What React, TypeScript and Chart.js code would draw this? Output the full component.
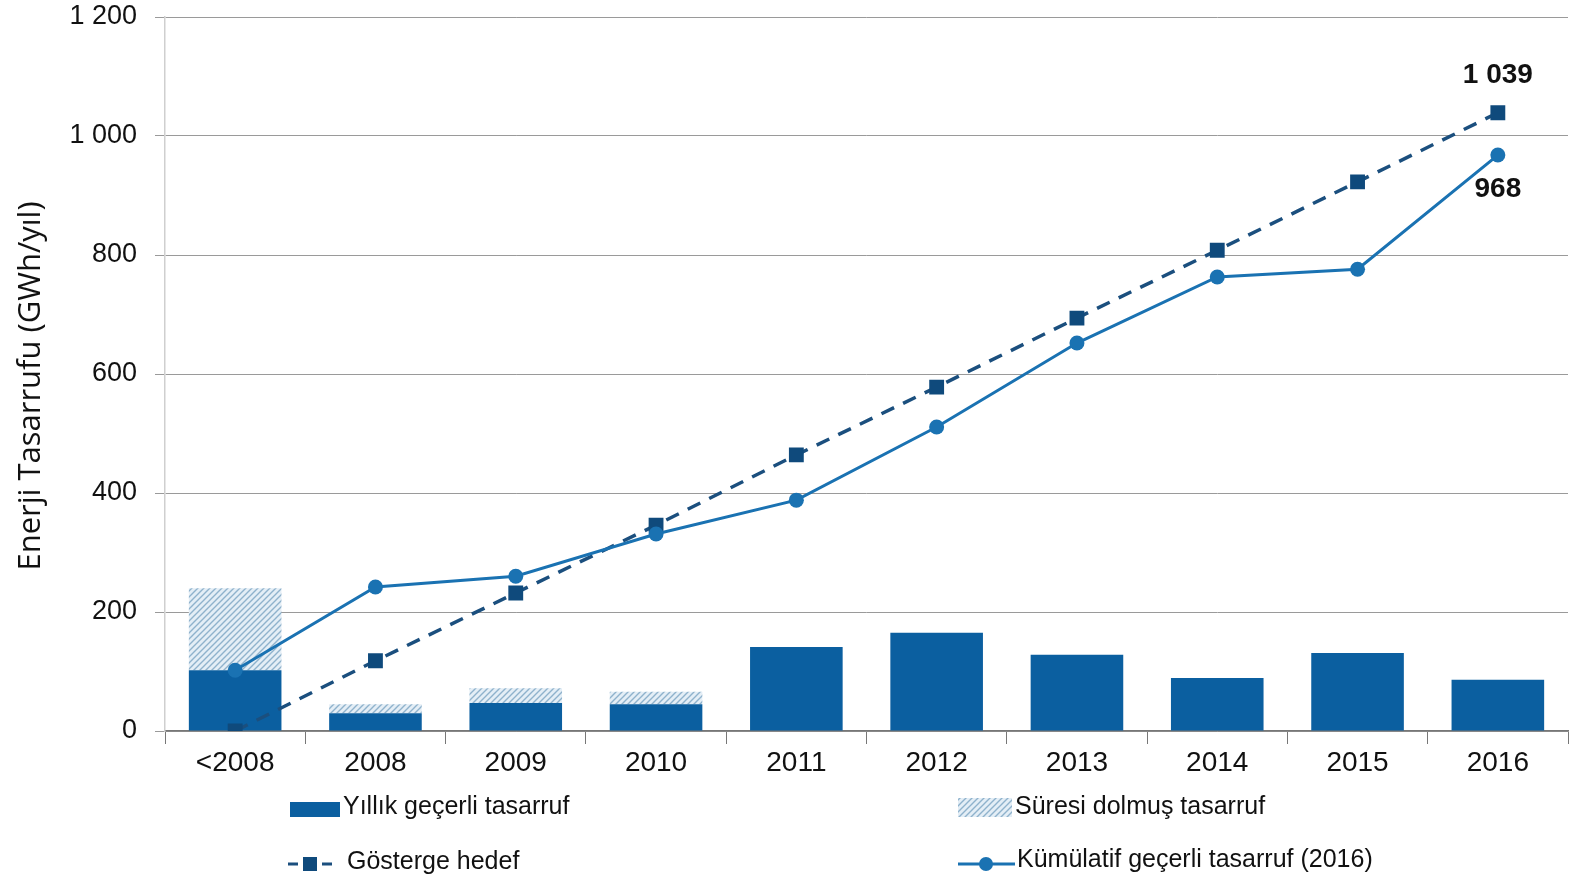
import React, { useEffect, useRef } from "react";
import { Chart, registerables } from "chart.js";

Chart.register(...registerables);

const categories = ["<2008", "2008", "2009", "2010", "2011", "2012", "2013", "2014", "2015", "2016"];
const annualValid = [102, 30, 47, 45, 141, 165, 128, 89, 131, 86];
const expired = [138, 15, 25, 21, 0, 0, 0, 0, 0, 0];
const indicativeTarget = [0, 118, 232, 346, 464, 578, 694, 808, 923, 1039];
const cumulativeValid = [102, 242, 260, 331, 388, 511, 652, 763, 776, 968];
const yTicks = [0, 200, 400, 600, 800, 1000, 1200];

const legendLabels = [
  "Yıllık geçerli tasarruf",
  "Süresi dolmuş tasarruf",
  "Gösterge hedef",
  "Kümülatif geçerli tasarruf (2016)",
];
const yTitle = "Enerji Tasarrufu (GWh/yıl)";

const BAR_COLOR = "#0b5fa0";
const LINE_COLOR = "#1a72b2";
const DASH_COLOR = "#1b4f7e";
const SQUARE_COLOR = "#0f4a7c";

function fmt(v: number): string {
  if (v >= 1000) {
    return `${Math.floor(v / 1000)} ${String(v % 1000).padStart(3, "0")}`;
  }
  return String(v);
}

function makeHatch(): CanvasPattern | string {
  const c = document.createElement("canvas");
  c.width = 6;
  c.height = 6;
  const g = c.getContext("2d");
  if (!g) return "#c9dceb";
  g.fillStyle = "#e4eef6";
  g.fillRect(0, 0, 6, 6);
  g.strokeStyle = "#8fb2cc";
  g.lineWidth = 1.4;
  g.beginPath();
  g.moveTo(-1, 7);
  g.lineTo(7, -1);
  g.moveTo(-4, 4);
  g.lineTo(4, -4);
  g.moveTo(2, 10);
  g.lineTo(10, 2);
  g.stroke();
  const p = g.createPattern(c, "repeat");
  return p || "#c9dceb";
}

export default function App() {
  const ref = useRef<HTMLCanvasElement | null>(null);

  useEffect(() => {
    if (!ref.current) return;
    const hatch = makeHatch();

    const labelPlugin = {
      id: "endLabels",
      afterDatasetsDraw(chart: any) {
        const ctx = chart.ctx;
        ctx.save();
        ctx.font = "bold 28px 'Liberation Sans', Arial, sans-serif";
        ctx.fillStyle = "#111";
        ctx.textAlign = "center";
        ctx.textBaseline = "middle";
        const tMeta = chart.getDatasetMeta(2);
        const cMeta = chart.getDatasetMeta(3);
        const tl = tMeta.data[tMeta.data.length - 1];
        const cl = cMeta.data[cMeta.data.length - 1];
        ctx.fillText(fmt(indicativeTarget[indicativeTarget.length - 1]), tl.x, tl.y - 38);
        ctx.fillText(fmt(cumulativeValid[cumulativeValid.length - 1]), cl.x, cl.y + 34);
        ctx.restore();
      },
    };

    const legendPlugin = {
      id: "customLegend",
      afterDraw(chart: any) {
        const ctx = chart.ctx;
        ctx.save();
        // y-axis title
        ctx.save();
        ctx.translate(31, 386);
        ctx.rotate(-Math.PI / 2);
        ctx.font = "31px 'Open Sans', sans-serif";
        ctx.fillStyle = "#111";
        ctx.textAlign = "center";
        ctx.textBaseline = "middle";
        ctx.fillText(yTitle, 0, 0);
        ctx.restore();

        ctx.font = "25px 'Liberation Sans', Arial, sans-serif";
        ctx.fillStyle = "#111";
        ctx.textBaseline = "middle";
        ctx.textAlign = "left";
        // row 1
        ctx.fillStyle = BAR_COLOR;
        ctx.fillRect(290, 802, 50, 15);
        ctx.fillStyle = "#111";
        ctx.fillText(legendLabels[0], 343, 807);
        ctx.fillStyle = hatch as any;
        ctx.fillRect(958, 798, 54, 19);
        ctx.fillStyle = "#111";
        ctx.fillText(legendLabels[1], 1015, 807);
        // row 2
        ctx.strokeStyle = DASH_COLOR;
        ctx.lineWidth = 3;
        ctx.beginPath();
        ctx.moveTo(288, 864);
        ctx.lineTo(298, 864);
        ctx.moveTo(322, 864);
        ctx.lineTo(332, 864);
        ctx.stroke();
        ctx.fillStyle = SQUARE_COLOR;
        ctx.fillRect(303, 857, 14, 14);
        ctx.fillStyle = "#111";
        ctx.fillText(legendLabels[2], 347, 862);
        ctx.strokeStyle = LINE_COLOR;
        ctx.beginPath();
        ctx.moveTo(958, 864);
        ctx.lineTo(1015, 864);
        ctx.stroke();
        ctx.fillStyle = LINE_COLOR;
        ctx.beginPath();
        ctx.arc(986, 864, 7, 0, Math.PI * 2);
        ctx.fill();
        ctx.fillStyle = "#111";
        ctx.fillText(legendLabels[3], 1017, 860);
        ctx.restore();
      },
    };

    const chart = new Chart(ref.current, {
      type: "bar",
      data: {
        labels: categories,
        datasets: [
          {
            type: "bar",
            label: legendLabels[0],
            data: annualValid,
            backgroundColor: BAR_COLOR,
            stack: "bars",
            order: 2,
            categoryPercentage: 1,
            barPercentage: 0.66,
          },
          {
            type: "bar",
            label: legendLabels[1],
            data: expired,
            backgroundColor: hatch as any,
            stack: "bars",
            order: 2,
            categoryPercentage: 1,
            barPercentage: 0.66,
          },
          {
            type: "line",
            label: legendLabels[2],
            data: indicativeTarget,
            borderColor: DASH_COLOR,
            borderWidth: 3.5,
            borderDash: [14, 10],
            pointStyle: "rect",
            pointRadius: 10.5,
            pointBackgroundColor: SQUARE_COLOR,
            pointBorderWidth: 0,
            stack: "target",
            order: 1,
          },
          {
            type: "line",
            label: legendLabels[3],
            data: cumulativeValid,
            borderColor: LINE_COLOR,
            borderWidth: 3,
            pointStyle: "circle",
            pointRadius: 7.5,
            pointBackgroundColor: LINE_COLOR,
            pointBorderWidth: 0,
            stack: "cum",
            order: 0,
          },
        ] as any,
      },
      options: {
        responsive: false,
        animation: false,
        layout: { padding: { left: 0, right: 17, top: 17, bottom: 0 } },
        plugins: {
          legend: { display: false },
          tooltip: { enabled: false },
        },
        scales: {
          x: {
            stacked: true,
            offset: true,
            grid: {
              display: true,
              drawOnChartArea: false,
              drawTicks: true,
              tickLength: 13,
              offset: true,
              color: "#777",
              lineWidth: 1,
            },
            border: { display: true, color: "#777", width: 1.5 },
            ticks: {
              color: "#111",
              font: { family: "'Liberation Sans', Arial, sans-serif", size: 28 },
              padding: 2,
              maxRotation: 0,
            },
            afterFit(scale: any) {
              scale.height = 155;
            },
          },
          y: {
            stacked: true,
            min: 0,
            max: 1200,
            afterBuildTicks(scale: any) {
              scale.ticks = yTicks.map((v) => ({ value: v }));
            },
            grid: {
              color: "#9a9a9a",
              lineWidth: 1,
              tickLength: 10,
              drawTicks: true,
            },
            border: { display: true, color: "#cfcfcf", width: 1.5 },
            ticks: {
              color: "#111",
              font: { family: "'Liberation Sans', Arial, sans-serif", size: 27 },
              padding: 18,
              callback: (v: any) => fmt(Number(v)),
            },
            title: { display: false },
            afterFit(scale: any) {
              scale.width = 165;
              scale.paddingTop = 0;
              scale.paddingBottom = 0;
            },
          },
        },
      },
      plugins: [labelPlugin, legendPlugin],
    });

    return () => chart.destroy();
  }, []);

  return (
    <div style={{ position: "absolute", left: 0, top: 0, width: 1585, height: 886, background: "#fff" }}>
      <canvas ref={ref} width={1585} height={886} style={{ display: "block" }} />
    </div>
  );
}
